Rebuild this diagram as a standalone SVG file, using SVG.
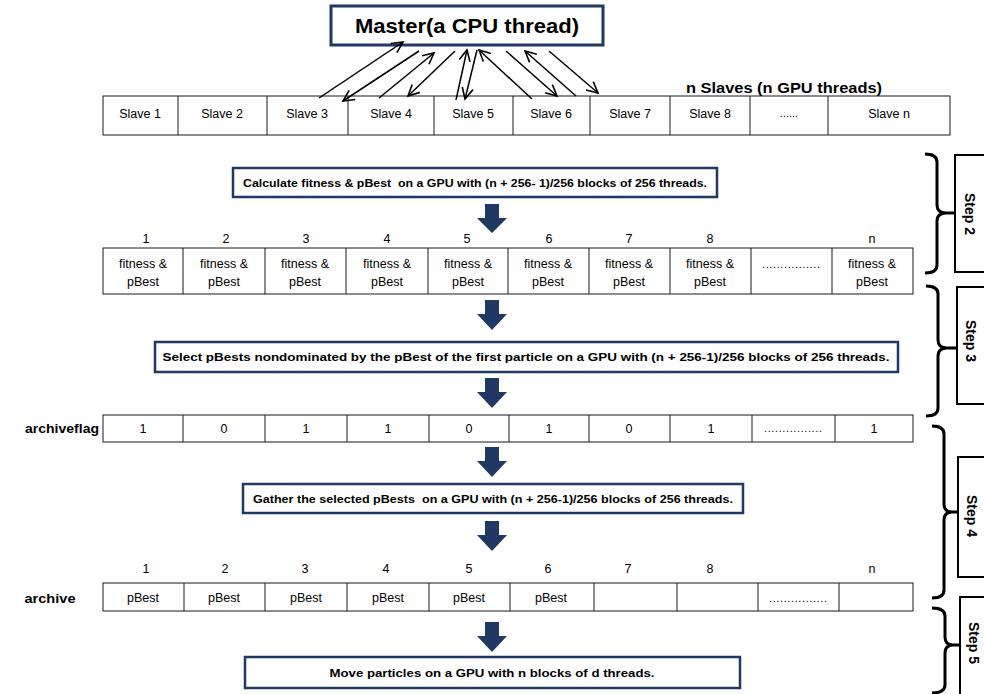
<svg xmlns="http://www.w3.org/2000/svg" width="984" height="694" viewBox="0 0 984 694">
  <defs>
    <marker id="open-head" markerUnits="userSpaceOnUse" markerWidth="15" markerHeight="15" refX="12" refY="6.5" orient="auto">
      <path d="M1,1 L12,6.5 L1,12" fill="none" stroke="#000" stroke-width="1.6"/>
    </marker>
    <style>
      text { font-family: "Liberation Sans", Arial, sans-serif; fill: #000; }
      .cell { fill: #fff; stroke: #1a1a1a; stroke-width: 1; }
      .div { stroke: #1a1a1a; stroke-width: 1; }
      .lbl { font-size: 12.5px; text-anchor: middle; }
      .dots { font-size: 11px; text-anchor: middle; }
      .task { fill: #fff; stroke: #1f3864; stroke-width: 2.5; }
      .task-text { font-size: 11.5px; font-weight: bold; text-anchor: middle; }
      .flow { fill: #1f3864; }
      .link { stroke: #000; stroke-width: 1.5; fill: none; marker-end: url(#open-head); }
      .brace { fill: none; stroke: #000; stroke-width: 3; stroke-linejoin: round; }
      .stepbox { fill: #fff; stroke: #000; stroke-width: 2; }
      .step-text { font-size: 14px; font-weight: bold; text-anchor: middle; dominant-baseline: central; }
    </style>
  </defs>

  <rect width="984" height="694" fill="#fff"/>

  <!-- master thread -->
  <g id="master">
    <rect x="331" y="6" width="272" height="39" fill="#fff" stroke="#1f3864" stroke-width="3"/>
    <text x="467" y="33" font-size="20" font-weight="bold" text-anchor="middle" textLength="224" lengthAdjust="spacingAndGlyphs">Master(a CPU thread)</text>
  </g>

  <!-- slave threads -->
  <g id="slaves">
    <text x="784" y="93" font-size="14" font-weight="bold" text-anchor="middle" textLength="196" lengthAdjust="spacingAndGlyphs">n Slaves (n GPU threads)</text>
    <rect class="cell" x="103" y="96" width="847" height="39"/>
    <path class="div" d="M178,96V135M267,96V135M348,96V135M434,96V135M513,96V135M590,96V135M670,96V135M750,96V135M828,96V135"/>
    <g class="lbl">
      <text x="140" y="118">Slave 1</text>
      <text x="222" y="118">Slave 2</text>
      <text x="307" y="118">Slave 3</text>
      <text x="391" y="118">Slave 4</text>
      <text x="473" y="118">Slave 5</text>
      <text x="551" y="118">Slave 6</text>
      <text x="630" y="118">Slave 7</text>
      <text x="710" y="118">Slave 8</text>
      <text x="889" y="118">Slave n</text>
    </g>
    <text class="dots" x="789" y="117">......</text>
  </g>

  <!-- step 2 kernel -->
  <g id="task-fitness">
    <rect class="task" x="233" y="168" width="484" height="29"/>
    <text class="task-text" x="475" y="187" textLength="464" lengthAdjust="spacingAndGlyphs" xml:space="preserve">Calculate fitness &amp; pBest  on a GPU with (n + 256- 1)/256 blocks of 256 threads.</text>
  </g>

  <!-- fitness & pBest array -->
  <g id="fitness-array">
    <g class="lbl">
      <text x="146" y="243">1</text>
      <text x="226" y="243">2</text>
      <text x="306" y="243">3</text>
      <text x="387" y="243">4</text>
      <text x="467" y="243">5</text>
      <text x="549" y="243">6</text>
      <text x="629" y="243">7</text>
      <text x="710" y="243">8</text>
      <text x="872" y="243">n</text>
    </g>
    <rect class="cell" x="103" y="248" width="810" height="46"/>
    <path class="div" d="M183,248V294M265,248V294M346,248V294M428,248V294M508,248V294M589,248V294M670,248V294M751,248V294M832,248V294"/>
    <g class="lbl">
      <text x="143" y="268">fitness &amp;</text><text x="143" y="286">pBest</text>
      <text x="224" y="268">fitness &amp;</text><text x="224" y="286">pBest</text>
      <text x="305" y="268">fitness &amp;</text><text x="305" y="286">pBest</text>
      <text x="387" y="268">fitness &amp;</text><text x="387" y="286">pBest</text>
      <text x="468" y="268">fitness &amp;</text><text x="468" y="286">pBest</text>
      <text x="548" y="268">fitness &amp;</text><text x="548" y="286">pBest</text>
      <text x="629" y="268">fitness &amp;</text><text x="629" y="286">pBest</text>
      <text x="710" y="268">fitness &amp;</text><text x="710" y="286">pBest</text>
      <text x="872" y="268">fitness &amp;</text><text x="872" y="286">pBest</text>
    </g>
    <text class="dots" x="791" y="268" textLength="58" lengthAdjust="spacing">................</text>
  </g>

  <!-- step 3 kernel -->
  <g id="task-select">
    <rect class="task" x="155" y="342" width="743" height="30"/>
    <text class="task-text" x="526" y="361" textLength="727" lengthAdjust="spacingAndGlyphs">Select pBests nondominated by the pBest of the first particle on a GPU with (n + 256-1)/256 blocks of 256 threads.</text>
  </g>

  <!-- archive flag array -->
  <g id="archiveflag-array">
    <text x="62" y="433" font-size="13.5" font-weight="bold" text-anchor="middle" textLength="74" lengthAdjust="spacingAndGlyphs">archiveflag</text>
    <rect class="cell" x="103" y="415" width="810" height="27"/>
    <path class="div" d="M183,415V442M265,415V442M347,415V442M429,415V442M509,415V442M589,415V442M670,415V442M752,415V442M835,415V442"/>
    <g class="lbl">
      <text x="143" y="433">1</text>
      <text x="224" y="433">0</text>
      <text x="306" y="433">1</text>
      <text x="388" y="433">1</text>
      <text x="469" y="433">0</text>
      <text x="549" y="433">1</text>
      <text x="629" y="433">0</text>
      <text x="711" y="433">1</text>
      <text x="874" y="433">1</text>
    </g>
    <text class="dots" x="793" y="432" textLength="58" lengthAdjust="spacing">................</text>
  </g>

  <!-- step 4 kernel -->
  <g id="task-gather">
    <rect class="task" x="243" y="484" width="500" height="29"/>
    <text class="task-text" x="493" y="503" textLength="480" lengthAdjust="spacingAndGlyphs" xml:space="preserve">Gather the selected pBests  on a GPU with (n + 256-1)/256 blocks of 256 threads.</text>
  </g>

  <!-- archive array -->
  <g id="archive-array">
    <text x="50" y="603" font-size="13.5" font-weight="bold" text-anchor="middle" textLength="51" lengthAdjust="spacingAndGlyphs">archive</text>
    <g class="lbl">
      <text x="146" y="573">1</text>
      <text x="225" y="573">2</text>
      <text x="305" y="573">3</text>
      <text x="386" y="573">4</text>
      <text x="469" y="573">5</text>
      <text x="548" y="573">6</text>
      <text x="628" y="573">7</text>
      <text x="710" y="573">8</text>
      <text x="872" y="573">n</text>
    </g>
    <rect class="cell" x="103" y="583" width="810" height="28"/>
    <path class="div" d="M184,583V611M265,583V611M347,583V611M429,583V611M510,583V611M594,583V611M677,583V611M758,583V611M839,583V611"/>
    <g class="lbl">
      <text x="143" y="602">pBest</text>
      <text x="224" y="602">pBest</text>
      <text x="306" y="602">pBest</text>
      <text x="388" y="602">pBest</text>
      <text x="469" y="602">pBest</text>
      <text x="551" y="602">pBest</text>
    </g>
    <text class="dots" x="798" y="602" textLength="58" lengthAdjust="spacing">................</text>
  </g>

  <!-- step 5 kernel -->
  <g id="task-move">
    <rect class="task" x="245" y="657" width="495" height="31"/>
    <text class="task-text" x="492" y="677" textLength="325" lengthAdjust="spacingAndGlyphs">Move particles on a GPU with n blocks of d threads.</text>
  </g>

  <!-- step markers -->
  <g id="step2">
    <path class="brace" d="M925,154 Q937,154 937,162 L937,205 Q937,213 946,213 Q937,213 937,221 L937,265 Q937,273 925,273 M946,213 H955"/>
    <rect class="stepbox" x="955" y="155" width="40" height="117"/>
    <text class="step-text" transform="translate(970,214) rotate(90)">Step 2</text>
  </g>
  <g id="step3">
    <path class="brace" d="M926,286 Q938,286 938,294 L938,340 Q938,348 947,348 Q938,348 938,356 L938,408 Q938,416 926,416 M947,348 H957"/>
    <rect class="stepbox" x="957" y="287" width="40" height="117"/>
    <text class="step-text" transform="translate(971,341) rotate(90)">Step 3</text>
  </g>
  <g id="step4">
    <path class="brace" d="M932,426 Q944,426 944,434 L944,504 Q944,512 952,512 Q944,512 944,520 L944,590 Q944,598 932,598 M952,512 H958"/>
    <rect class="stepbox" x="958" y="457" width="40" height="120"/>
    <text class="step-text" transform="translate(972,516) rotate(90)">Step 4</text>
  </g>
  <g id="step5">
    <path class="brace" d="M932,608 Q945,608 945,616 L945,637 Q945,645 953,645 Q945,645 945,653 L945,685 Q945,693 932,693 M953,645 H960"/>
    <rect class="stepbox" x="960" y="597" width="40" height="110"/>
    <text class="step-text" transform="translate(974,643) rotate(90)">Step 5</text>
  </g>

  <!-- connectors: master/slave links and flow arrows -->
  <g id="connectors">
    <line class="link" x1="319" y1="98" x2="403" y2="42"/>
    <line class="link" x1="419" y1="51" x2="343" y2="101"/>
    <line class="link" x1="379" y1="98" x2="434" y2="53"/>
    <line class="link" x1="455" y1="51" x2="408" y2="96"/>
    <line class="link" x1="456" y1="100" x2="467" y2="50"/>
    <line class="link" x1="477" y1="50" x2="465" y2="99"/>
    <line class="link" x1="532" y1="99" x2="479" y2="50"/>
    <line class="link" x1="506" y1="51" x2="557" y2="96"/>
    <line class="link" x1="576" y1="96" x2="525" y2="51"/>
    <line class="link" x1="549" y1="51" x2="598" y2="93"/>

    <g class="flow">
      <polygon points="485,204 499,204 499,218 507,218 492,233 477,218 485,218"/>
      <polygon points="485,300 499,300 499,314 507,314 492,330 477,314 485,314"/>
      <polygon points="485,378 499,378 499,392 507,392 492,408 477,392 485,392"/>
      <polygon points="485,447 499,447 499,461 507,461 492,477 477,461 485,461"/>
      <polygon points="485,521 499,521 499,535 507,535 492,551 477,535 485,535"/>
      <polygon points="485,622 499,622 499,636 507,636 492,652 477,636 485,636"/>
    </g>
  </g>
</svg>
